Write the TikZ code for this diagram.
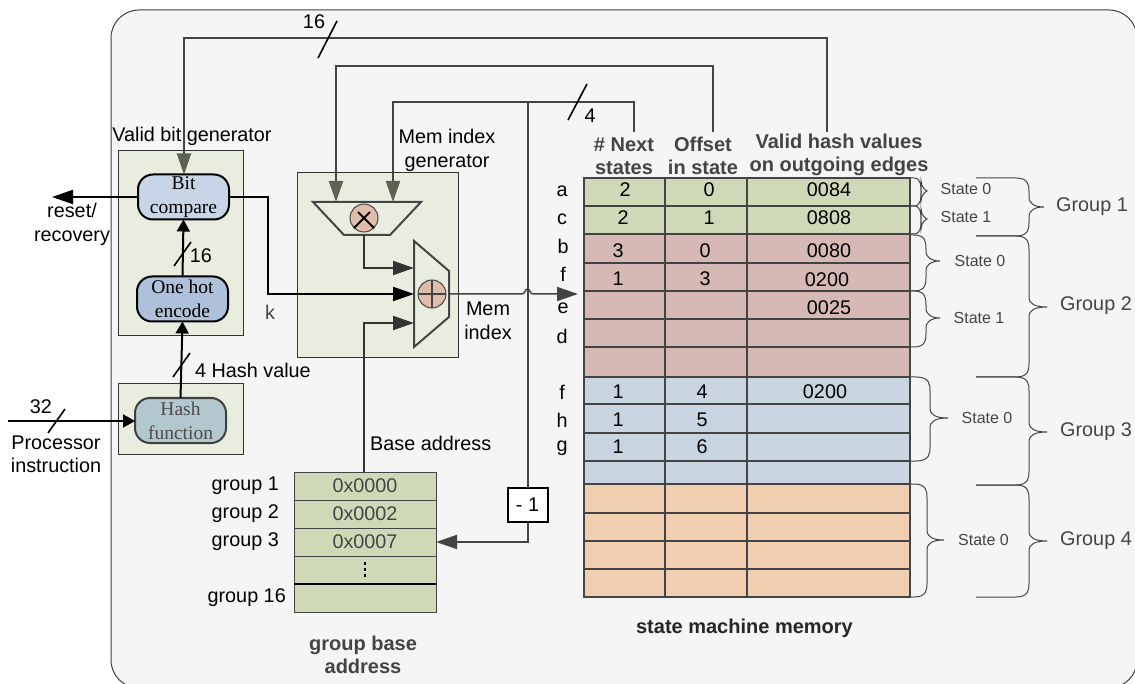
\documentclass[tikz,border=0pt]{standalone}
\usepackage{fontspec}
\setmainfont{Liberation Sans}
\newfontfamily\serifblock{Liberation Serif}
\usetikzlibrary{positioning, arrows.meta}

\definecolor{panelbg}{HTML}{F5F5F5}
\definecolor{blockbg}{HTML}{E9EDE0}
\definecolor{wiregray}{HTML}{444444}
\definecolor{tipolive}{HTML}{5C6152}
\definecolor{opfill}{HTML}{E0BDAB}
\definecolor{memgreen}{HTML}{CFD9B8}
\definecolor{mempink}{HTML}{D6B8B5}
\definecolor{memblue}{HTML}{C9D4E1}
\definecolor{memorange}{HTML}{F0CFB0}
\definecolor{cmpblue}{HTML}{C8D5E6}
\definecolor{hotblue}{HTML}{AFC1DA}
\definecolor{hashteal}{HTML}{B2C7CE}

\tikzset{
    txt/.style={inner sep=0pt, align=center, font=\fontsize{19.8}{23.5}\selectfont},
    boldtxt/.style={txt, font=\fontsize{20}{23.5}\selectfont\bfseries, text=wiregray},
    statetxt/.style={inner sep=0pt, text=wiregray, font=\fontsize{16}{19}\selectfont},
    grouptxt/.style={txt, text=wiregray},
    unitbox/.style={draw=black!80, fill=blockbg, line width=1pt, inner sep=0pt, outer sep=0pt},
    logicbox/.style={draw=black, line width=2pt, rounded corners=15pt, minimum width=91pt, minimum height=45pt, inner sep=0pt, outer sep=0pt, align=center, font=\fontsize{19.5}{24}\serifblock},
    memrow/.style={draw=wiregray, line width=1.5pt, minimum width=326pt, inner sep=0pt, outer sep=0pt},
    baserow/.style={draw=wiregray, line width=1pt, fill=memgreen, minimum width=142pt, minimum height=28pt, inner sep=0pt, outer sep=0pt, txt, text=wiregray},
    opcircle/.style={circle, draw=wiregray, line width=1pt, fill=opfill, minimum size=28pt, inner sep=0pt, outer sep=0pt},
    wire/.style={draw=wiregray, line width=2pt},
    blackwire/.style={draw=black, line width=2pt},
    slash/.style={draw=black, line width=1.6pt},
    bigtip/.style={-{Triangle[length=21pt,width=14pt]}},
    olivetip/.style={-{Triangle[length=21pt,width=14pt,color=tipolive]}},
    smalltip/.style={-{Triangle[length=12pt,width=13pt]}},
}

% curly bracket: x start, x of bend, x of spine, x of tip, y top, y tip, y bottom
\newcommand{\curlybrace}[7]{
    \draw[wiregray, line width=1pt] (#1,#5) -- (#2,#5) .. controls (#3,#5) and (#3,#5+8) .. (#3,#5+14) -- (#3,#6-10)
        .. controls (#3,#6-3) and (#3+6,#6) .. (#4,#6) .. controls (#3+6,#6) and (#3,#6+3) .. (#3,#6+10) -- (#3,#7-14)
        .. controls (#3,#7-8) and (#3,#7) .. (#2,#7) -- (#1,#7);
}

\begin{document}
\begin{tikzpicture}[x=1pt, y=-1pt]
    \useasboundingbox (0,0) rectangle (1135,684);
    \draw[fill=panelbg, draw=black!75, line width=1pt, rounded corners=28pt] (111,10) rectangle (1137,688);

    % valid bit generator
    \node[unitbox, minimum width=125pt, minimum height=185pt] (validunit) at (180.5,243.5) {};
    \node[txt] (validlabel) at (192,136) {Valid bit generator};
    \node[logicbox, fill=cmpblue] (bitcmp) at (183.5,197) {Bit\\compare};
    \node[logicbox, fill=hotblue] (onehot) at (182.5,299) {One hot\\encode};

    % hash
    \node[unitbox, minimum width=125pt, minimum height=70pt] (hashunit) at (180.5,419) {};
    \node[logicbox, draw=black!75, text=black!70, fill=hashteal] (hashfn) at (180.5,420.5) {Hash\\function};

    % mem index generator
    \node[unitbox, minimum width=161pt, minimum height=185pt] (memunit) at (377.5,265.5) {};
    \node[txt] (memlabel) at (447,150.5) {Mem index\\generator};
    \draw[draw=wiregray, line width=2pt, fill=blockbg] (313,202) -- (421,202) -- (390,235) -- (344,235) -- cycle;
    \draw[draw=wiregray, line width=2pt, fill=blockbg] (414,241) -- (449,271) -- (449,317) -- (414,347) -- cycle;
    \node[opcircle] (mulop) at (364,218) {};
    \node[opcircle] (addop) at (432,294) {};
    \draw[black, line width=2pt] (mulop.north west) ++(4,4) -- (mulop.south east) ++(-4,-4);
    \draw[black, line width=2pt] (mulop.north east) ++(-4,4) -- (mulop.south west) ++(4,-4);
    \draw[wiregray, line width=1.5pt] (addop.west) -- (addop.east);
    \draw[wiregray, line width=1.5pt] (addop.north) -- (addop.south);

    % state machine memory
    \node[memrow, fill=memgreen, minimum height=28pt] (row1) at (747,192) {};
    \node[memrow, fill=memgreen, minimum height=28pt] (row2) at (747,220) {};
    \node[memrow, fill=mempink, minimum height=28.5pt] (row3) at (747,248.75) {};
    \node[memrow, fill=mempink, minimum height=28pt] (row4) at (747,277) {};
    \node[memrow, fill=mempink, minimum height=28pt] (row5) at (747,305) {};
    \node[memrow, fill=mempink, minimum height=28pt] (row6) at (747,333) {};
    \node[memrow, fill=mempink, minimum height=30pt] (row7) at (747,362) {};
    \node[memrow, fill=memblue, minimum height=27pt] (row8) at (747,390.5) {};
    \node[memrow, fill=memblue, minimum height=29pt] (row9) at (747,418.5) {};
    \node[memrow, fill=memblue, minimum height=28pt] (row10) at (747,447) {};
    \node[memrow, fill=memblue, minimum height=23pt] (row11) at (747,472.5) {};
    \node[memrow, fill=memorange, minimum height=29pt] (row12) at (747,498.5) {};
    \node[memrow, fill=memorange, minimum height=28pt] (row13) at (747,527) {};
    \node[memrow, fill=memorange, minimum height=28pt] (row14) at (747,555) {};
    \node[memrow, fill=memorange, minimum height=28pt] (row15) at (747,583) {};
    \coordinate (coltop1) at (665,178);
    \coordinate (coltop2) at (747,178);
    \draw[wiregray, line width=2pt] (coltop1) -- (coltop1|-row15.south);
    \draw[wiregray, line width=2pt] (coltop2) -- (coltop2|-row15.south);
    \draw[wiregray, line width=2.4pt] ([xshift=-1pt]row2.south west) -- (row2.south east);

    \node[boldtxt] (nexthead) at (624,156) {\# Next\\states};
    \node[boldtxt] (offsethead) at (703,156) {Offset\\in state};
    \node[boldtxt] (hashhead) at (839,155) {Valid hash values\\on outgoing edges};

    \node[txt] (next1) at (625,190) {2};
    \node[txt] (off1) at (709,190) {0};
    \node[txt] (val1) at (829,190) {0084};
    \node[txt] (next2) at (623,218) {2};
    \node[txt] (off2) at (709,218) {1};
    \node[txt] (val2) at (829,218) {0808};
    \node[txt] (next3) at (618,251) {3};
    \node[txt] (off3) at (705,251) {0};
    \node[txt] (val3) at (829,251) {0080};
    \node[txt] (next4) at (618,279) {1};
    \node[txt] (off4) at (705,279) {3};
    \node[txt] (val4) at (827,280) {0200};
    \node[txt] (val5) at (829,308) {0025};
    \node[txt] (next8) at (618,392) {1};
    \node[txt] (off8) at (702,392) {4};
    \node[txt] (val8) at (825,392) {0200};
    \node[txt] (next9) at (618,420) {1};
    \node[txt] (off9) at (702,420) {5};
    \node[txt] (next10) at (618,447) {1};
    \node[txt] (off10) at (702,447) {6};

    \node[txt] (letter1) at (562,191) {a};
    \node[txt] (letter2) at (562,219) {c};
    \node[txt] (letter3) at (563,246) {b};
    \node[txt] (letter4) at (563,274) {f};
    \node[txt] (letter5) at (563,308) {e};
    \node[txt] (letter6) at (562,336) {d};
    \node[txt] (letter8) at (562,392) {f};
    \node[txt] (letter9) at (562,420) {h};
    \node[txt] (letter10) at (562,448) {g};

    \node[boldtxt, text=black!85] (memtitle) at (744.5,628) {state machine memory};

    % braces
    \curlybrace{910}{914}{921}{927}{178}{191}{206}
    \curlybrace{910}{914}{921}{927}{206}{219}{234}
    \curlybrace{910}{914}{926}{940}{235}{261}{291}
    \curlybrace{910}{914}{926}{940}{291}{318}{347}
    \curlybrace{910}{916}{930}{948}{377}{418}{461}
    \curlybrace{910}{914}{927}{944}{484}{540}{597}
    \curlybrace{976}{1016}{1029}{1044}{178}{207}{236}
    \curlybrace{976}{1016}{1029}{1047}{236}{307}{377}
    \curlybrace{976}{1016}{1029}{1047}{377}{432}{485}
    \curlybrace{976}{1016}{1029}{1047}{485}{541}{597}

    \node[statetxt] (state1) at (966,189) {State 0};
    \node[statetxt] (state2) at (966,217) {State 1};
    \node[statetxt] (state3) at (980,261) {State 0};
    \node[statetxt] (state4) at (979,318) {State 1};
    \node[statetxt] (state5) at (987,418) {State 0};
    \node[statetxt] (state6) at (983.5,540) {State 0};
    \node[grouptxt] (group1) at (1092,207) {Group 1};
    \node[grouptxt] (group2) at (1096,306) {Group 2};
    \node[grouptxt] (group3) at (1096,432) {Group 3};
    \node[grouptxt] (group4) at (1096,541) {Group 4};

    % group base address
    \node[baserow] (base1) at (365,486) {0x0000};
    \node[baserow, below=0pt of base1] (base2) {0x0002};
    \node[baserow, below=0pt of base2] (base3) {0x0007};
    \node[baserow, below=0pt of base3] (base4) {};
    \node[baserow, below=0pt of base4] (base5) {};
    \draw[black, line width=2pt] (base4.south west) -- (base4.south east);
    \draw[black, line width=2pt, dash pattern=on 3pt off 3pt] ([yshift=-6pt]base4.north) -- ([yshift=6pt]base4.south);
    \node[txt, left=15pt of base1] (glabel1) {group 1};
    \node[txt, left=15pt of base2] (glabel2) {group 2};
    \node[txt, left=15pt of base3] (glabel3) {group 3};
    \node[txt, left=8pt of base5] (glabel5) {group 16};
    \node[boldtxt] (basetitle) at (363,655) {group base\\address};
    \node[txt, anchor=west] (baselabel) at (370,443) {Base address};

    \node[txt] (resetlabel) at (72,224.5) {reset/\\recovery};
    \node[txt] (proclabel) at (56,454.5) {Processor\\instruction};
    \node[txt] (k) at (270,312) {\textcolor{wiregray}{k}};
    \node[txt, anchor=west] (hashlabel) at (195,370) {4 Hash value};
    \node[txt] (memoutlabel) at (488,321) {Mem\\index};
    \node[txt] (w16) at (201,256) {16};
    \node[txt] (w32) at (41,407) {32};
    \node[txt] (top16) at (314,22) {16};
    \node[txt] (top4) at (590,116) {4};

    % minus one
    \node[draw=black, line width=2pt, fill=white, minimum width=40pt, minimum height=34pt, inner sep=0pt, outer sep=0pt, txt] (minus) at (527.5,505) {- 1};

    % dot
    \coordinate (topvalid) at (827,132);
    \coordinate (topoffset) at (713,132);
    \coordinate (topnext) at (634,132);
    \coordinate (muxa) at (336,202);
    \coordinate (muxb) at (393,202);
    \coordinate (bus16) at (184,38);
    \coordinate (bus4) at (0,102);
    \coordinate (tapnext) at (minus|-bus4);
    \coordinate (kbend) at (268,294);
    \coordinate (addkin) at (414,294);
    \coordinate (addmulin) at (414,268);
    \coordinate (addbasein) at (414,323);
    \coordinate (mulbottom) at (364,235);
    \coordinate (basein) at (364,472);
    \coordinate (resetout) at (52,197);
    \coordinate (procin) at (8,421);
    \coordinate (memout) at (449,294);
    \coordinate (memarrow) at (578,294);

    \draw[wire, olivetip] (topvalid) |- (bus16) -- (bitcmp.north-|bus16);
    \draw[wire, olivetip] (topoffset) |- (336,66) -- (muxa);
    \draw[wire, olivetip] (topnext) |- (393,102) -- (muxb);
    \draw[wire] (tapnext) -- (minus.north);
    \draw[wire, bigtip] (minus.south) |- (base3.east);

    \draw[blackwire, bigtip] (bitcmp.west) -- (resetout);
    \draw[blackwire, smalltip] (onehot.north) -- (bitcmp.south);
    \draw[blackwire, smalltip] (hashfn.north) -- (onehot.south);
    \draw[blackwire, smalltip] (procin) -- (hashfn.west|-procin);
    \draw[blackwire, bigtip] (bitcmp.east) -| (kbend) -- (addkin);
    \draw[wire, draw=black!80, bigtip] (mulbottom) |- (addmulin);
    \draw[wire, draw=black!80, bigtip] (basein) |- (addbasein);
    \draw[wire, line width=1.5pt, bigtip] (memout) -- (522,294) .. controls (525,294) and (525,289) .. (527.5,289) .. controls (530,289) and (530,294) .. (533,294) -- (memarrow);

    % bus width marks
    \draw[slash] (174,266) -- (191,242);
    \draw[slash] (173,377) -- (190,353);
    \draw[slash] (48,433) -- (65,409);
    \draw[slash] (318,58) -- (337,21);
    \draw[slash] (568,120) -- (587,84);
\end{tikzpicture}
\end{document}
